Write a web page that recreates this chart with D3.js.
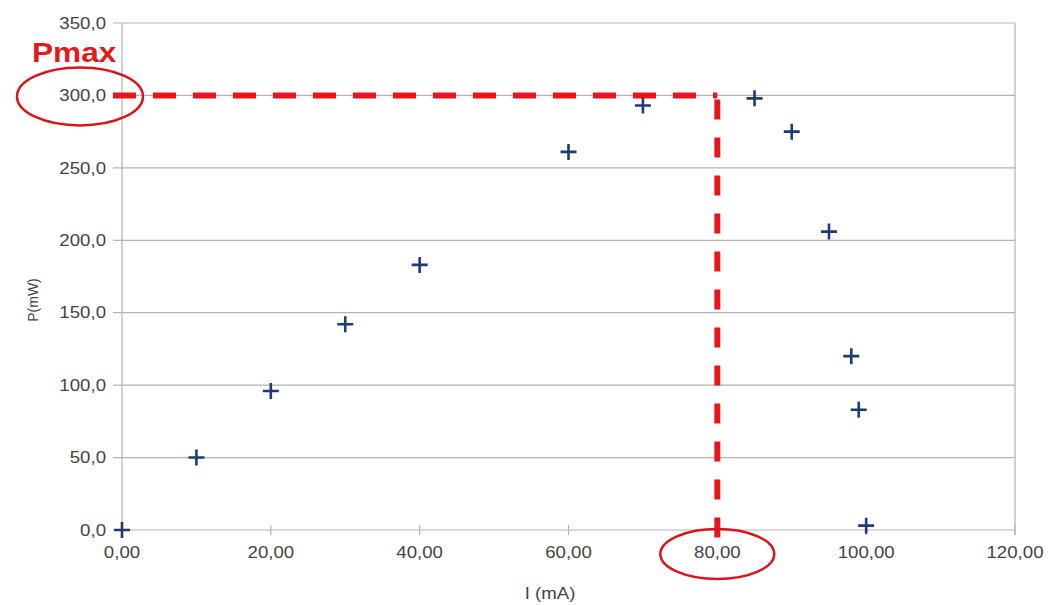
<!DOCTYPE html>
<html><head><meta charset="utf-8">
<script src="https://cdn.jsdelivr.net/npm/d3@7"></script>
<style>body{margin:0;background:#fff}svg{display:block}</style>
</head><body>
<svg id="c" width="1048" height="605"></svg>
<script>
const currents = [0, 10, 20, 30, 40, 60, 70, 85, 90, 95, 98, 99, 100];
const powers   = [0, 50, 96, 142, 183, 261, 293, 298, 275, 206, 120, 83, 3];
const xTicks = [0, 20, 40, 60, 80, 100, 120];
const yTicks = [0, 50, 100, 150, 200, 250, 300, 350];
const pMax = 300, iAtPmax = 80;

const svg = d3.select("#c");
const x = d3.scaleLinear().domain([0,120]).range([122,1015]);
const y = d3.scaleLinear().domain([0,350]).range([530,23]);
const fmtX = d => d.toFixed(2).replace(".", ",");
const fmtY = d => d.toFixed(1).replace(".", ",");
const sx = 1.13;

// gridlines
svg.append("g").selectAll("line").data(yTicks).join("line")
  .attr("x1", x(0)-9).attr("x2", x(120)).attr("y1", d=>y(d)).attr("y2", d=>y(d))
  .attr("stroke", "#b3b3b3").attr("stroke-width", 1.2);
svg.append("line").attr("x1", x(120)).attr("x2", x(120)).attr("y1", y(350)).attr("y2", y(0)+5)
  .attr("stroke", "#b3b3b3").attr("stroke-width", 1.2);
svg.append("line").attr("x1", x(0)).attr("x2", x(0)).attr("y1", y(350)).attr("y2", y(0)+5)
  .attr("stroke", "#b3b3b3").attr("stroke-width", 1.2);
svg.append("g").selectAll("line").data(xTicks).join("line")
  .attr("x1", d=>x(d)).attr("x2", d=>x(d)).attr("y1", y(0)-5).attr("y2", y(0)+5)
  .attr("stroke", "#b3b3b3").attr("stroke-width", 1.2);

const font = "'Liberation Sans', Arial, sans-serif";
svg.append("g").selectAll("text").data(yTicks).join("text")
  .attr("transform", d => `translate(${x(0)-16},${y(d)}) scale(${sx},1)`)
  .attr("dy", "0.35em")
  .attr("text-anchor", "end").attr("font-family", font).attr("font-size", 16.5)
  .attr("fill", "#444").text(fmtY);
svg.append("g").selectAll("text").data(xTicks).join("text")
  .attr("transform", d => `translate(${x(d)},558) scale(${sx},1)`)
  .attr("text-anchor", "middle").attr("font-family", font).attr("font-size", 16.5)
  .attr("fill", "#444").text(fmtX);

svg.append("text").attr("transform", `translate(550,599) scale(${sx},1)`).attr("text-anchor", "middle")
  .attr("font-family", font).attr("font-size", 16.5).attr("fill", "#444").text("I (mA)");
svg.append("text").attr("transform", "translate(38,300) rotate(-90)").attr("text-anchor", "middle")
  .attr("font-family", font).attr("font-size", 14).attr("fill", "#444").text("P(mW)");

// red dashed Pmax lines
const red = "#e8161b";
svg.append("line").attr("x1", x(0)-9).attr("x2", x(iAtPmax)).attr("y1", y(pMax)).attr("y2", y(pMax))
  .attr("stroke", red).attr("stroke-width", 6).attr("stroke-dasharray", "23 17");
svg.append("line").attr("x1", x(iAtPmax)).attr("x2", x(iAtPmax)).attr("y1", y(pMax)+4).attr("y2", 548)
  .attr("stroke", red).attr("stroke-width", 6).attr("stroke-dasharray", "20 18");

// ellipses
svg.append("ellipse").attr("cx", 80).attr("cy", y(pMax)+1).attr("rx", 63).attr("ry", 29)
  .attr("fill", "none").attr("stroke", "#d8141c").attr("stroke-width", 2.5);
svg.append("ellipse").attr("cx", x(iAtPmax)).attr("cy", 554).attr("rx", 57).attr("ry", 25)
  .attr("fill", "none").attr("stroke", "#d8141c").attr("stroke-width", 2.5);

svg.append("text").attr("transform", `translate(32,62) scale(${sx},1)`).attr("font-family", font).attr("font-weight", "bold")
  .attr("font-size", 28).attr("fill", "#e31a1c").text("Pmax");

// plus markers
const pts = currents.map((c,i)=>[c, powers[i]]);
const m = svg.append("g").attr("stroke", "#1f3b73").attr("stroke-width", 2.6);
m.selectAll("path").data(pts).join("path")
  .attr("d", d => `M${x(d[0])-8},${y(d[1])}h16M${x(d[0])},${y(d[1])-8}v16`);
</script>
</body></html>
